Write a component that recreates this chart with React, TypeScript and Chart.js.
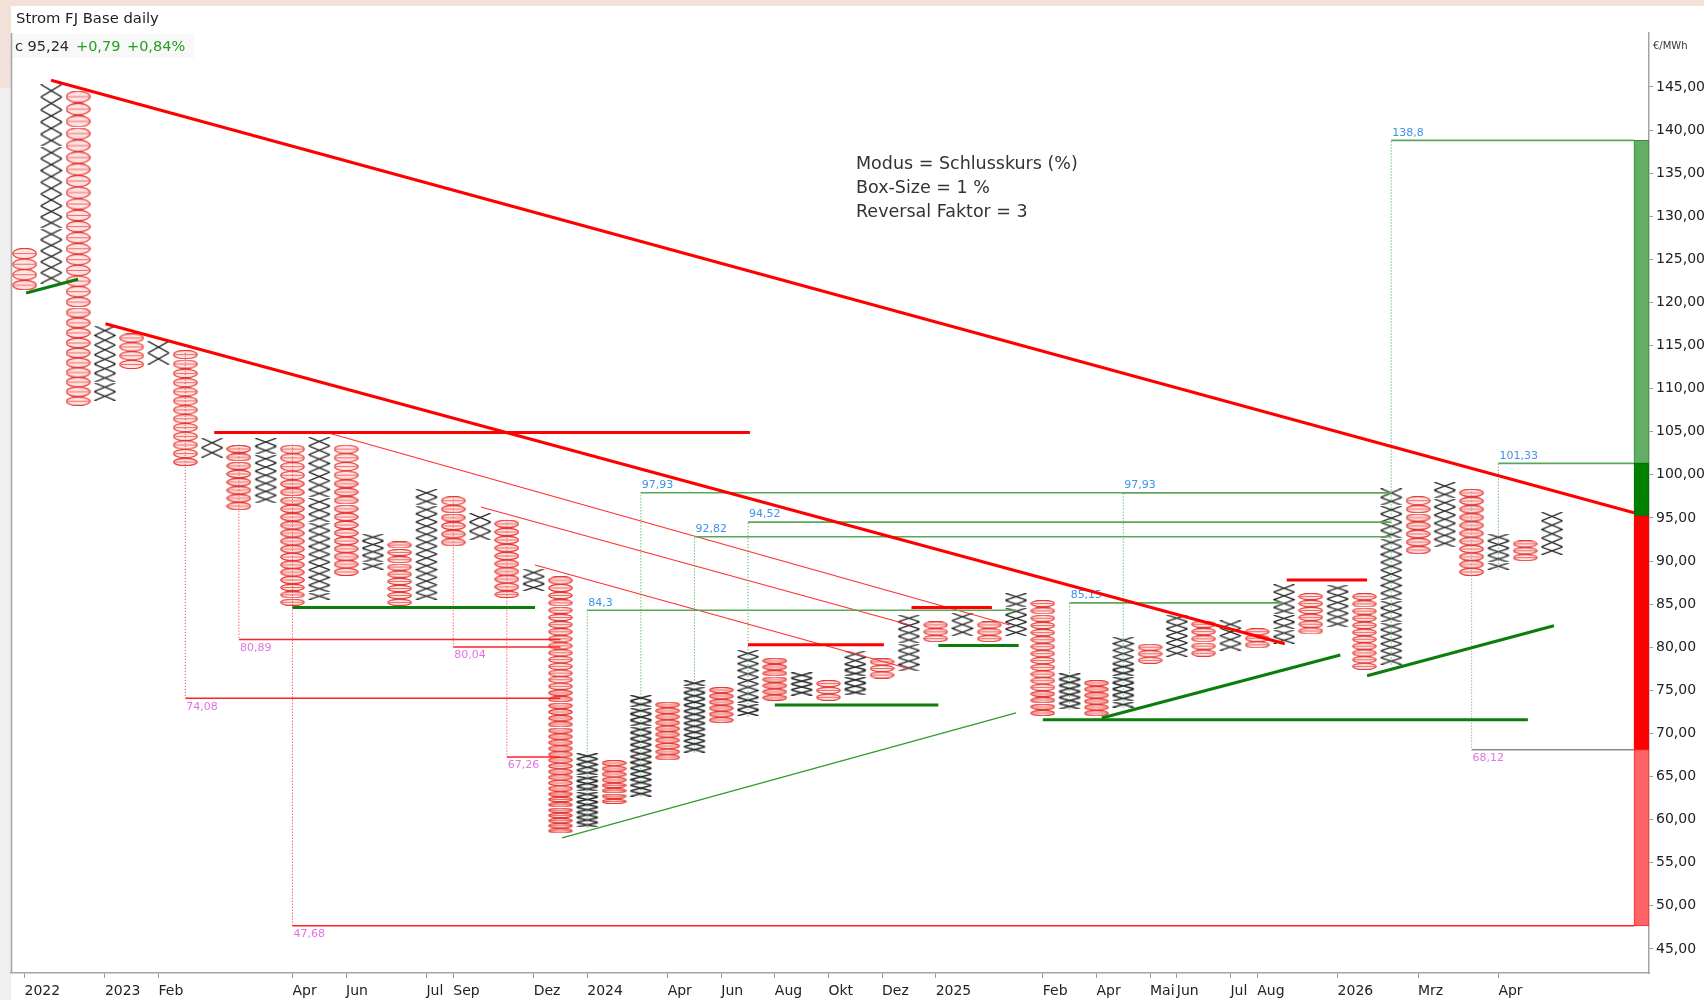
import React, { useEffect, useRef } from 'react';
import { Chart, registerables } from 'chart.js';

Chart.register(...registerables);

const FONT = '"DejaVu Sans", Verdana, sans-serif';
const BOX_PCT = 1;

// Point & Figure columns (O = falling, X = rising), price range of each column
const colTypes = ['O','X','O','X','O','X','O','X','O','X','O','X','O','X','O','X','O','X','O','X','O','X','O','X','O','X','O','X','O','X','O','X','O','X','O','X','O','X','O','X','O','X','O','X','O','X','O','X','O','X','O','X','O','X','O','X','O','X'];
const colHigh = [126.3,145.3,144.6,117.3,116.4,115.5,114.5,104.3,103.5,104.3,103.5,104.4,103.5,93.2,92.3,98.4,97.5,95.6,94.8,89.1,88.2,67.7,66.9,74.5,73.7,76.2,75.4,79.7,78.8,77.1,76.2,79.6,78.7,83.8,83.0,84.0,83.0,86.3,85.5,77.0,76.2,81.2,80.4,83.8,83.1,83.1,82.2,87.3,86.3,87.3,86.3,98.4,97.5,99.2,98.4,93.2,92.4,95.7];
const colLow = [121.4,122.2,108.0,108.6,112.3,112.8,101.0,102.0,95.9,96.7,84.8,85.5,88.3,89.0,84.8,85.5,91.7,92.4,85.7,86.5,58.4,59.1,61.8,62.7,66.9,67.8,71.2,72.0,73.8,74.4,73.8,74.4,76.4,77.2,80.6,81.3,80.6,81.3,72.0,72.8,72.0,73.0,78.1,78.9,78.9,79.6,79.9,80.4,81.5,82.3,77.4,78.0,90.8,91.6,88.3,89.0,90.0,90.7];

// x axis ticks (column index -> label)
const tickCols = [0,3,5,10,12,15,16,19,21,24,26,28,30,32,34,38,40,42,43,45,46,49,52,55];
const tickLabels = ['2022','2023','Feb','Apr','Jun','Jul','Sep','Dez','2024','Apr','Jun','Aug','Okt','Dez','2025','Feb','Apr','Mai','Jun','Jul','Aug','2026','Mrz','Apr'];
const yTicks = [45,50,55,60,65,70,75,80,85,90,95,100,105,110,115,120,125,130,135,140,145];

// trend lines [ [col, price], [col, price] ]
const redThickLines = [
  [[0.99,145.78],[60.06,95.6]],
  [[3.02,117.53],[47.03,80.4]],
  [[7.08,104.9],[27.07,104.9]],
  [[27.0,80.3],[32.07,80.3]],
  [[33.1,84.6],[36.1,84.6]],
  [[47.1,87.8],[50.1,87.8]],
];
const redThinLines = [
  [[11.21,104.98],[36.77,82.59]],
  [[17.03,96.28],[33.04,82.59]],
  [[19.05,89.55],[33.04,77.48]],
];
const greenThickLines = [
  [[0.06,121.1],[2.0,122.7]],
  [[10.0,84.6],[19.05,84.6]],
  [[28.0,73.3],[34.1,73.3]],
  [[34.1,80.2],[37.1,80.2]],
  [[38.0,71.6],[56.1,71.6]],
  [[40.2,71.8],[49.1,79.1]],
  [[50.1,76.7],[57.07,82.5]],
];
const greenThinLines = [
  [[20.06,57.88],[37.0,72.38]],
];

// price targets
const upTargets = [84.3, 97.93, 92.82, 94.52, 85.15, 97.93, 138.8, 101.33];
const upCols = [21, 23, 25, 27, 39, 41, 51, 55];
const upFrom = [59.1, 62.7, 67.8, 72.0, 72.8, 73.0, 78.0, 89.0];
const upEnd = [37, 51, 51, 51, 47, 51, 60.06, 60.06];
const downTargets = [74.08, 80.89, 47.68, 80.04, 67.26, 68.12];
const downCols = [6, 8, 10, 16, 18, 54];
const downFrom = [114.5, 103.5, 103.5, 97.5, 94.8, 98.4];
const downEnd = [20, 20, 60.06, 20, 20, 60.06];
const downGray = [false, false, false, false, false, true];

// right-side target bar
const barCol = 60.34;
const barLow = [101.33, 95.24, 68.12, 47.68];
const barHigh = [138.8, 101.33, 95.24, 68.12];
const barFill = ['#62ae62', '#007f00', '#ff0000', '#ff6464'];
const barEdge = ['#2e8f2e', '#007000', '#ff0000', '#ff2a2a'];

const fmt = (v: number) => String(v).replace('.', ',');

const imgCache = new Map<string, HTMLCanvasElement>();
function boxImage(kind: string, h: number): HTMLCanvasElement {
  const hh = Math.max(3, Math.round(h));
  const key = kind + hh;
  const hit = imgCache.get(key);
  if (hit) return hit;
  const c = document.createElement('canvas');
  const w = kind === 'X' ? 24 : 25;
  c.width = w;
  c.height = hh;
  const g = c.getContext('2d')!;
  if (kind === 'X') {
    g.strokeStyle = '#262626';
    g.lineWidth = 1.4;
    g.beginPath();
    g.moveTo(1.5, 0.2); g.lineTo(w - 1.5, hh - 0.2);
    g.moveTo(w - 1.5, 0.2); g.lineTo(1.5, hh - 0.2);
    g.stroke();
  } else {
    g.fillStyle = 'rgba(255,140,140,0.25)';
    g.strokeStyle = '#e63a34';
    g.lineWidth = 1.2;
    g.beginPath();
    g.ellipse(w / 2, hh / 2, w / 2 - 0.8, Math.max(1, hh / 2 - 0.3), 0, 0, Math.PI * 2);
    g.fill();
    g.stroke();
    g.strokeStyle = 'rgba(230,58,52,0.7)';
    g.lineWidth = 1;
    g.beginPath();
    g.moveTo(2, hh / 2); g.lineTo(w - 2, hh / 2);
    g.stroke();
  }
  imgCache.set(key, c);
  return c;
}

function buildBoxes(kind: string) {
  const pts: any[] = [];
  const step = 1 + BOX_PCT / 100;
  colTypes.forEach((t, i) => {
    if (t !== kind) return;
    const lo = colLow[i];
    const hi = colHigh[i];
    const n = Math.max(1, Math.round(Math.log(hi / lo) / Math.log(step)));
    const r = Math.pow(hi / lo, 1 / n);
    for (let k = 0; k < n; k++) {
      const a = lo * Math.pow(r, k);
      const b = a * r;
      pts.push({ x: i, y: Math.sqrt(a * b), lo: a, hi: b });
    }
  });
  return pts;
}

function lineDs(pts: number[][], color: string, width: number, order: number, dash: number[] = []) {
  return {
    type: 'scatter',
    data: pts.map(([x, y]) => ({ x, y })),
    showLine: true,
    borderColor: color,
    backgroundColor: color,
    borderWidth: width,
    borderDash: dash,
    pointRadius: 0,
    pointHoverRadius: 0,
    tension: 0,
    order,
  };
}

const overlayPlugin = {
  id: 'pfOverlay',
  beforeDatasetsDraw(chart: any) {
    const { ctx, scales } = chart;
    const x = scales.x;
    const y = scales.y;
    ctx.save();
    ctx.font = '11px ' + FONT;
    ctx.textAlign = 'left';
    ctx.textBaseline = 'bottom';
    ctx.fillStyle = '#3c92ea';
    upTargets.forEach((v, i) => {
      ctx.fillText(fmt(v), x.getPixelForValue(upCols[i]) + 1, y.getPixelForValue(v) - 2);
    });
    ctx.textBaseline = 'top';
    ctx.fillStyle = '#e272e2';
    downTargets.forEach((v, i) => {
      ctx.fillText(fmt(v), x.getPixelForValue(downCols[i]) + 1, y.getPixelForValue(v) + 3);
    });
    ctx.restore();
  },
  afterDatasetsDraw(chart: any) {
    const { ctx, chartArea } = chart;
    ctx.save();
    ctx.strokeStyle = '#a4a4a4';
    ctx.lineWidth = 1.5;
    ctx.beginPath();
    ctx.moveTo(chartArea.left + 0.5, chartArea.top);
    ctx.lineTo(chartArea.left + 0.5, chartArea.bottom);
    ctx.stroke();
    ctx.font = '10px ' + FONT;
    ctx.fillStyle = '#333';
    ctx.textAlign = 'left';
    ctx.textBaseline = 'middle';
    ctx.fillText('€/MWh', chartArea.right + 4, 46);
    ctx.restore();
  },
};

export default function App() {
  const ref = useRef<HTMLCanvasElement>(null);

  useEffect(() => {
    const xPts = buildBoxes('X');
    const oPts = buildBoxes('O');
    const styleFor = (kind: string) => (c: any) => {
      const p = c.raw;
      if (!p || p.lo === undefined) return 'circle';
      const ys = c.chart.scales.y;
      const h = ys.getPixelForValue(p.lo) - ys.getPixelForValue(p.hi);
      return boxImage(kind, h);
    };

    const datasets: any[] = [];
    datasets.push({
      type: 'scatter', data: xPts, pointStyle: styleFor('X'),
      pointRadius: 4, pointHoverRadius: 4, order: 20,
    });
    datasets.push({
      type: 'scatter', data: oPts, pointStyle: styleFor('O'),
      pointRadius: 4, pointHoverRadius: 4, order: 20,
    });

    redThinLines.forEach((l) => datasets.push(lineDs(l, '#ff3030', 1.1, 8)));
    greenThinLines.forEach((l) => datasets.push(lineDs(l, '#2f9a2f', 1.2, 8)));

    upTargets.forEach((v, i) => {
      datasets.push(lineDs([[upCols[i], upFrom[i]], [upCols[i], v]], '#2f9f2f', 1, 6, [1, 2]));
      datasets.push(lineDs([[upCols[i], v], [upEnd[i], v]], '#58a858', 1.6, 6));
    });
    downTargets.forEach((v, i) => {
      const col = downGray[i] ? '#8c8c8c' : '#ff2222';
      datasets.push(lineDs([[downCols[i], downFrom[i]], [downCols[i], v]], col, 1, 6, [1, 2]));
      datasets.push(lineDs([[downCols[i], v], [downEnd[i], v]], col, 1.5, 6));
    });

    greenThickLines.forEach((l) => datasets.push(lineDs(l, '#0a7d0a', 3, 3)));
    redThickLines.forEach((l) => datasets.push(lineDs(l, '#ff0000', 3, 3)));

    datasets.push({
      type: 'bar',
      data: barLow.map((lo, i) => ({ x: barCol, y: [lo, barHigh[i]] })),
      backgroundColor: barFill,
      borderColor: barEdge,
      borderWidth: 1,
      borderSkipped: false,
      barThickness: 15,
      grouped: false,
      order: 1,
    });

    const chart = new Chart(ref.current as HTMLCanvasElement, {
      type: 'scatter',
      data: { datasets },
      options: {
        responsive: false,
        animation: false,
        devicePixelRatio: 1,
        events: [],
        layout: { padding: { top: 33, left: 11, right: 0, bottom: 0 } },
        plugins: { legend: { display: false }, tooltip: { enabled: false } },
        scales: {
          x: {
            type: 'linear',
            min: -0.504,
            max: 60.62,
            offset: false,
            afterBuildTicks: (s: any) => { s.ticks = tickCols.map((v) => ({ value: v })); },
            afterFit: (s: any) => { s.height = 27; },
            grid: { offset: false, drawOnChartArea: false, drawTicks: true, tickLength: 5, tickColor: '#9a9a9a' },
            border: { display: true, color: '#a4a4a4', width: 1.5 },
            ticks: {
              autoSkip: false, maxRotation: 0, minRotation: 0, align: 'start', padding: 5,
              color: '#222', font: { family: FONT, size: 14 },
              callback: (_v: any, i: number) => tickLabels[i],
            },
          },
          y: {
            type: 'linear',
            position: 'right',
            min: 42.21,
            max: 151.26,
            afterBuildTicks: (s: any) => { s.ticks = yTicks.map((v) => ({ value: v })); },
            afterFit: (s: any) => { s.width = 55; },
            grid: { offset: false, drawOnChartArea: false, drawTicks: true, tickLength: 4, tickColor: '#9a9a9a' },
            border: { display: true, color: '#a4a4a4', width: 1.5 },
            ticks: {
              padding: 3, color: '#222', font: { family: FONT, size: 14 },
              callback: (v: any) => Number(v).toFixed(2).replace('.', ','),
            },
          },
        },
      } as any,
      plugins: [overlayPlugin],
    } as any);
    return () => chart.destroy();
  }, []);

  const txt = (extra: any) => ({ position: 'absolute', fontFamily: FONT, whiteSpace: 'nowrap', ...extra });

  return (
    <div style={{ position: 'fixed', left: 0, top: 0, width: 1704, height: 1000, background: '#fff', overflow: 'hidden' }}>
      <div style={{ position: 'absolute', left: 0, top: 0, width: 1704, height: 6, background: '#f1e1d8' }} />
      <div style={{ position: 'absolute', left: 0, top: 0, width: 11, height: 88, background: '#f1e1d8' }} />
      <div style={{ position: 'absolute', left: 0, top: 88, width: 11, height: 912, background: '#efefef' }} />
      <div style={{ position: 'absolute', left: 12, top: 34, width: 182, height: 24, background: '#f8f8f8' }} />
      <canvas ref={ref} width={1704} height={1000} style={{ position: 'absolute', left: 0, top: 0, width: 1704, height: 1000 }} />
      <div style={txt({ left: 16, top: 9, fontSize: 14.8, lineHeight: '18px', color: '#1e1e1e' })}>Strom FJ Base daily</div>
      <div style={txt({ left: 15, top: 37, fontSize: 14.5, lineHeight: '18px', color: '#2a2a2a' })}>c 95,24</div>
      <div style={txt({ left: 76, top: 37, fontSize: 14.5, lineHeight: '18px', color: '#22a022' })}>+0,79</div>
      <div style={txt({ left: 127, top: 37, fontSize: 14.5, lineHeight: '18px', color: '#22a022' })}>+0,84%</div>
      <div style={txt({ left: 856, top: 151, fontSize: 17.5, lineHeight: '24px', color: '#333' })}>
        Modus = Schlusskurs (%)<br />Box-Size = 1 %<br />Reversal Faktor = 3
      </div>
    </div>
  );
}
